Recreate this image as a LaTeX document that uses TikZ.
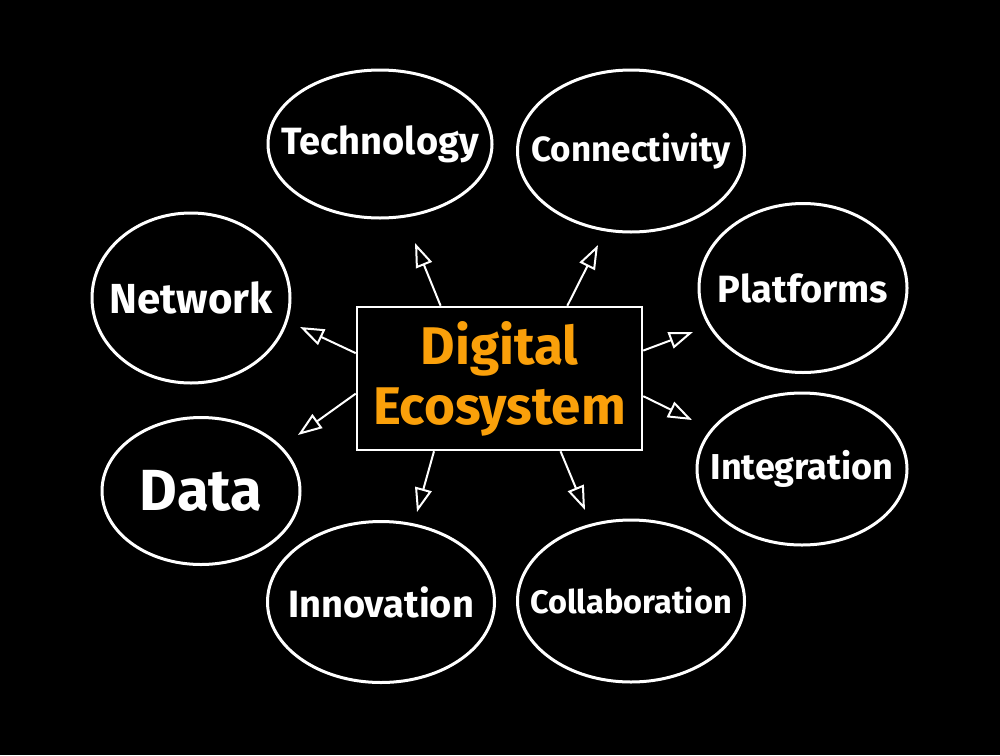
\documentclass[tikz,border=0pt]{standalone}
\usepackage{fontspec}
\setmainfont{Fira Sans}
\usetikzlibrary{arrows.meta,shapes.geometric}
\definecolor{ecoorange}{RGB}{250,160,10}
\newcommand{\fs}[1]{\fontsize{#1}{#1}\selectfont}
\tikzset{
  bubble/.style={ellipse,draw=white,line width=3pt,inner sep=0pt},
  lbl/.style={text=white,font=\bfseries\fs{38}},
  hub/.style={rectangle,draw=white,line width=2.5pt,inner sep=0pt,align=center,text=ecoorange,font=\bfseries\fontsize{53}{60}\selectfont},
  spoke/.style={white,line width=2pt,-{Triangle[open,length=24pt,width=17pt]}}
}
\begin{document}
\begin{tikzpicture}[x=1pt,y=-1pt]
\fill[black] (0,0) rectangle (1000,755);
% centre
\node[hub,minimum width=285pt,minimum height=143pt] (eco) at (499.5,378.5) {Digital\\Ecosystem};
% bubbles
\node[bubble,minimum width=224pt,minimum height=148pt,label={[lbl]center:Technology}] (tech) at (380,144) {};
\node[bubble,minimum width=227pt,minimum height=162pt,label={[lbl,font=\bfseries\fs{35}]center:Connectivity}] (conn) at (631,151) {};
\node[bubble,minimum width=198pt,minimum height=170pt,label={[lbl,font=\bfseries\fs{42}]center:Network}] (net) at (191,298) {};
\node[bubble,minimum width=208pt,minimum height=169pt,label={[lbl]center:Platforms}] (plat) at (803,288) {};
\node[bubble,minimum width=198pt,minimum height=147pt,label={[lbl,font=\bfseries\fs{58}]center:Data}] (data) at (201,491) {};
\node[bubble,minimum width=210pt,minimum height=152pt,label={[lbl,font=\bfseries\fs{36}]center:Integration}] (integ) at (802,469) {};
\node[bubble,minimum width=227pt,minimum height=161pt,label={[lbl]center:Innovation}] (innov) at (381,602) {};
\node[bubble,minimum width=227pt,minimum height=162pt,label={[lbl,font=\bfseries\fs{32.5}]center:Collaboration}] (collab) at (631,601) {};
% arrow tips
\coordinate (tTech) at (415,243);
\coordinate (tConn) at (598,245);
\coordinate (tNet) at (300,327);
\coordinate (tData) at (298,435);
\coordinate (tPlat) at (693,332);
\coordinate (tInteg) at (692,420);
\coordinate (tInnov) at (417,512);
\coordinate (tCollab) at (585,510);
\draw[spoke] (eco.129.6) -- (tTech);
\draw[spoke] (eco.47.8) -- (tConn);
\draw[spoke] (eco.170) -- (tNet);
\draw[spoke] (eco.-174) -- (tData);
\draw[spoke] (eco.11.3) -- (tPlat);
\draw[spoke] (eco.-7.8) -- (tInteg);
\draw[spoke] (eco.228.7) -- (tInnov);
\draw[spoke] (eco.310.4) -- (tCollab);
\end{tikzpicture}
\end{document}
